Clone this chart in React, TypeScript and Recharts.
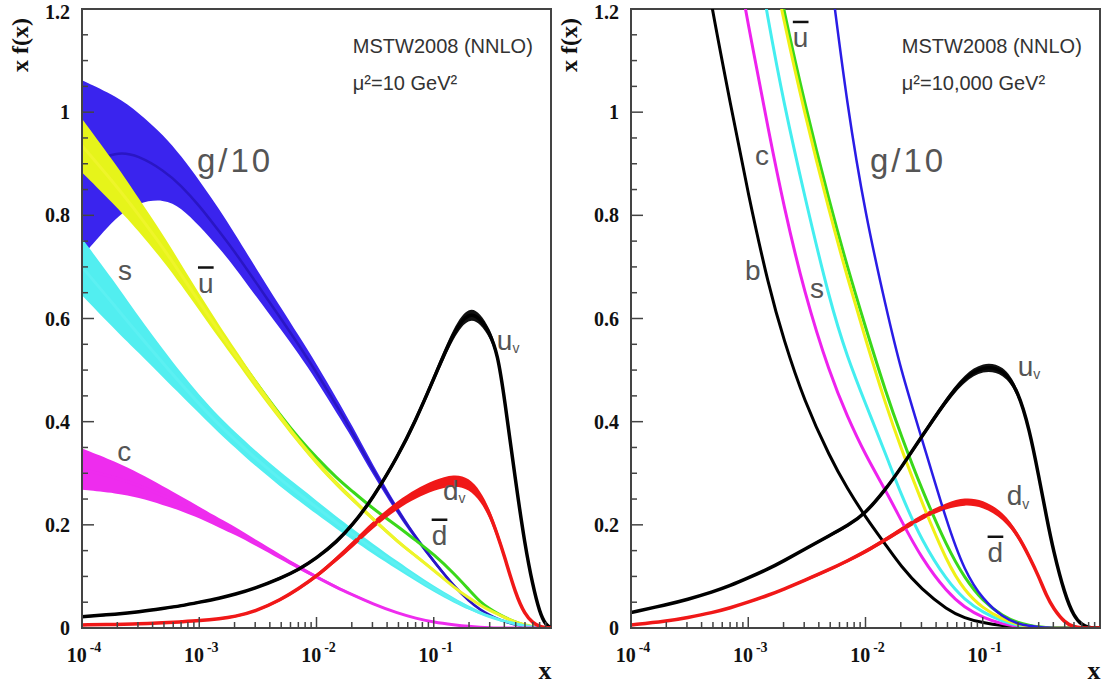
import { ComposedChart, Area, Line, XAxis, YAxis, ReferenceArea, ReferenceDot, Label } from 'recharts'

// common x grid for both panels
const xGrid = [1e-4, 2e-4, 3e-4, 5e-4, 7e-4, 1e-3, 1.5e-3, 2e-3, 3e-3, 5e-3, 7e-3, 1e-2, 1.5e-2, 2e-2, 3e-2, 5e-2, 7e-2, 0.1, 0.15, 0.2, 0.25, 0.3, 0.35, 0.4, 0.5, 0.6, 0.7, 0.8, 0.9, 1]

// ---- mu^2 = 10 GeV^2 (left panel) ----
const gQ10 = [0.895, 0.925, 0.916, 0.887, 0.858, 0.819, 0.767, 0.73, 0.672, 0.599, 0.55, 0.496, 0.429, 0.382, 0.308, 0.224, 0.176, 0.129, 0.08, 0.052, 0.035, 0.025, 0.018, 0.013, 0.006, 0.003, 0.0015, 0.0005, 0, 0]
const gLowQ10 = [0.72, 0.8, 0.825, 0.832, 0.815, 0.78, 0.735, 0.7, 0.645, 0.578, 0.532, 0.48, 0.415, 0.37, 0.298, 0.217, 0.171, 0.125, 0.077, 0.05, 0.034, 0.024, 0.017, 0.012, 0.005, 0.002, 0.001, 0, 0, 0]
const gHighQ10 = [1.062, 1.03, 1.0, 0.955, 0.915, 0.868, 0.81, 0.765, 0.7, 0.62, 0.568, 0.512, 0.443, 0.394, 0.318, 0.231, 0.181, 0.133, 0.083, 0.054, 0.036, 0.026, 0.019, 0.014, 0.007, 0.004, 0.002, 0.001, 0, 0]
const ubarQ10 = [0.935, 0.855, 0.803, 0.735, 0.685, 0.632, 0.572, 0.532, 0.474, 0.406, 0.363, 0.321, 0.278, 0.251, 0.212, 0.166, 0.14, 0.112, 0.078, 0.058, 0.044, 0.034, 0.027, 0.021, 0.011, 0.006, 0.003, 0.001, 0, 0]
const ubarErrQ10 = [0.052, 0.04, 0.032, 0.025, 0.02, 0.016, 0.013, 0.011, 0.009, 0.007, 0.006, 0.006, 0.005, 0.005, 0.004, 0.004, 0.003, 0.003, 0.002, 0.002, 0.001, 0.001, 0, 0, 0, 0, 0, 0, 0, 0]
const dbarQ10 = [0.935, 0.855, 0.803, 0.735, 0.686, 0.634, 0.574, 0.535, 0.478, 0.41, 0.369, 0.33, 0.29, 0.266, 0.232, 0.196, 0.17, 0.143, 0.105, 0.074, 0.05, 0.037, 0.028, 0.021, 0.011, 0.005, 0.002, 0.001, 0, 0]
const sQ10 = [0.7, 0.619, 0.57, 0.511, 0.473, 0.434, 0.392, 0.366, 0.329, 0.287, 0.261, 0.234, 0.203, 0.183, 0.154, 0.12, 0.098, 0.076, 0.053, 0.039, 0.029, 0.022, 0.017, 0.013, 0.008, 0.004, 0.002, 0.001, 0, 0]
const sErrQ10 = [0.055, 0.045, 0.035, 0.027, 0.022, 0.018, 0.016, 0.015, 0.015, 0.014, 0.014, 0.013, 0.012, 0.011, 0.01, 0.008, 0.007, 0.006, 0.005, 0.004, 0.003, 0.002, 0.002, 0.001, 0, 0, 0, 0, 0, 0]
const cQ10 = [0.308, 0.291, 0.277, 0.256, 0.241, 0.224, 0.203, 0.189, 0.166, 0.137, 0.118, 0.099, 0.078, 0.065, 0.047, 0.028, 0.019, 0.011, 0.006, 0.003, 0.0015, 0.0005, 0, 0, 0, 0, 0, 0, 0, 0]
const cErrQ10 = [0.04, 0.03, 0.024, 0.018, 0.014, 0.011, 0.009, 0.008, 0.006, 0.005, 0.004, 0.003, 0.003, 0.002, 0.002, 0.001, 0, 0, 0, 0, 0, 0, 0, 0, 0, 0, 0, 0, 0, 0]
const uvQ10 = [0.022, 0.027, 0.031, 0.038, 0.043, 0.05, 0.058, 0.065, 0.077, 0.097, 0.113, 0.135, 0.168, 0.198, 0.25, 0.335, 0.402, 0.483, 0.578, 0.613, 0.6, 0.572, 0.532, 0.448, 0.282, 0.16, 0.082, 0.03, 0.006, 0]
const uvErrQ10 = [0.002, 0.002, 0.002, 0.002, 0.002, 0.002, 0.002, 0.002, 0.002, 0.003, 0.003, 0.003, 0.004, 0.004, 0.005, 0.006, 0.007, 0.008, 0.01, 0.011, 0.01, 0.009, 0.008, 0.007, 0.005, 0.004, 0.003, 0.002, 0.001, 0]
const dvQ10 = [0.006, 0.007, 0.008, 0.01, 0.012, 0.014, 0.018, 0.022, 0.032, 0.055, 0.076, 0.1, 0.135, 0.16, 0.2, 0.24, 0.26, 0.277, 0.288, 0.28, 0.256, 0.222, 0.18, 0.14, 0.065, 0.026, 0.01, 0.003, 0.001, 0]
const dvErrQ10 = [0.001, 0.001, 0.001, 0.001, 0.001, 0.001, 0.002, 0.002, 0.002, 0.003, 0.003, 0.004, 0.005, 0.006, 0.007, 0.008, 0.009, 0.01, 0.011, 0.011, 0.01, 0.009, 0.008, 0.007, 0.005, 0.003, 0.002, 0.001, 0, 0]

// ---- mu^2 = 10,000 GeV^2 (right panel) ----
const gQ1e4 = [4.57, 3.97, 3.62, 3.18, 2.89, 2.58, 2.24, 2.0, 1.68, 1.27, 1.01, 0.8, 0.62, 0.5, 0.37, 0.2, 0.11, 0.055, 0.02, 0.008, 0.004, 0.002, 0.001, 0, 0, 0, 0, 0, 0, 0]
const ubarQ1e4 = [3.05, 2.54, 2.26, 1.93, 1.73, 1.53, 1.32, 1.18, 1.0, 0.8, 0.68, 0.56, 0.43, 0.35, 0.245, 0.125, 0.072, 0.038, 0.016, 0.007, 0.003, 0.001, 0, 0, 0, 0, 0, 0, 0, 0]
const dbarQ1e4 = [3.07, 2.56, 2.28, 1.95, 1.75, 1.55, 1.34, 1.2, 1.02, 0.82, 0.7, 0.583, 0.455, 0.375, 0.27, 0.155, 0.097, 0.052, 0.022, 0.01, 0.005, 0.002, 0.001, 0, 0, 0, 0, 0, 0, 0]
const sQ1e4 = [3.04, 2.5, 2.2, 1.84, 1.62, 1.4, 1.17, 1.02, 0.84, 0.63, 0.525, 0.435, 0.335, 0.26, 0.17, 0.09, 0.055, 0.03, 0.012, 0.005, 0.002, 0.001, 0, 0, 0, 0, 0, 0, 0, 0]
const cQ1e4 = [2.53, 2.1, 1.85, 1.55, 1.36, 1.17, 0.96, 0.82, 0.65, 0.49, 0.41, 0.335, 0.265, 0.21, 0.135, 0.068, 0.04, 0.02, 0.007, 0.003, 0.001, 0, 0, 0, 0, 0, 0, 0, 0, 0]
const bQ1e4 = [2.14, 1.72, 1.48, 1.19, 1.02, 0.84, 0.66, 0.56, 0.44, 0.33, 0.27, 0.215, 0.16, 0.12, 0.075, 0.035, 0.019, 0.01, 0.004, 0.002, 0.001, 0, 0, 0, 0, 0, 0, 0, 0, 0]
const uvQ1e4 = [0.03, 0.045, 0.055, 0.07, 0.082, 0.097, 0.115, 0.13, 0.152, 0.18, 0.198, 0.222, 0.27, 0.31, 0.37, 0.445, 0.485, 0.508, 0.502, 0.46, 0.385, 0.295, 0.215, 0.15, 0.065, 0.022, 0.006, 0.001, 0, 0]
const uvErrQ1e4 = [0.001, 0.001, 0.001, 0.001, 0.001, 0.002, 0.002, 0.002, 0.002, 0.003, 0.003, 0.003, 0.004, 0.004, 0.005, 0.006, 0.007, 0.008, 0.008, 0.007, 0.006, 0.005, 0.004, 0.003, 0.002, 0.001, 0, 0, 0, 0]
const dvQ1e4 = [0.006, 0.013, 0.02, 0.03, 0.039, 0.05, 0.064, 0.075, 0.092, 0.114, 0.13, 0.148, 0.172, 0.19, 0.215, 0.238, 0.246, 0.242, 0.218, 0.18, 0.138, 0.1, 0.062, 0.038, 0.01, 0.002, 0, 0, 0, 0]
const dvErrQ1e4 = [0.001, 0.001, 0.001, 0.001, 0.001, 0.002, 0.002, 0.002, 0.003, 0.003, 0.003, 0.004, 0.004, 0.005, 0.005, 0.006, 0.007, 0.007, 0.007, 0.006, 0.005, 0.004, 0.003, 0.002, 0.001, 0, 0, 0, 0, 0]

// axis ticks
const xMajorTicks = [1e-4, 1e-3, 1e-2, 1e-1]
const xTicks = xMajorTicks.flatMap((d) => [1, 2, 3, 4, 5, 6, 7, 8, 9].map((m) => m * d))
const yTicks = [0, 0.05, 0.1, 0.15, 0.2, 0.25, 0.3, 0.35, 0.4, 0.45, 0.5, 0.55, 0.6, 0.65, 0.7, 0.75, 0.8, 0.85, 0.9, 0.95, 1, 1.05, 1.1, 1.15, 1.2]
const yMajorTicks = [0, 0.2, 0.4, 0.6, 0.8, 1, 1.2]
const yTickLabels = ['0', '0.2', '0.4', '0.6', '0.8', '1', '1.2']

const band = (mid: number[], err: number[], i: number) => [Math.max(0, mid[i] - err[i]), mid[i] + err[i]]

const tableQ10 = xGrid.map((x, i) => ({
  x,
  g: gQ10[i],
  gBand: [gLowQ10[i], gHighQ10[i]],
  ubar: ubarQ10[i],
  ubarBand: band(ubarQ10, ubarErrQ10, i),
  dbar: dbarQ10[i],
  s: sQ10[i],
  sBand: band(sQ10, sErrQ10, i),
  c: cQ10[i],
  cBand: band(cQ10, cErrQ10, i),
  uv: uvQ10[i],
  uvBand: band(uvQ10, uvErrQ10, i),
  dv: dvQ10[i],
  dvBand: band(dvQ10, dvErrQ10, i),
}))

const tableQ1e4 = xGrid.map((x, i) => ({
  x,
  g: gQ1e4[i],
  ubar: ubarQ1e4[i],
  dbar: dbarQ1e4[i],
  s: sQ1e4[i],
  c: cQ1e4[i],
  b: bQ1e4[i],
  uv: uvQ1e4[i],
  uvBand: band(uvQ1e4, uvErrQ1e4, i),
  dv: dvQ1e4[i],
  dvBand: band(dvQ1e4, dvErrQ1e4, i),
}))

type Note = { text: string; x: number; y: number; size: number; sub?: string; bar?: boolean; dark?: boolean; spacing?: number }

const notesQ10: Note[] = [
  { text: 'MSTW2008 (NNLO)', x: 0.0204, y: 1.115, size: 20, dark: true },
  { text: '\u03bc\u00b2=10 GeV\u00b2', x: 0.0204, y: 1.043, size: 20, dark: true },
  { text: 'g/10', x: 9.55e-4, y: 0.884, size: 33, spacing: 3 },
  { text: 's', x: 2.03e-4, y: 0.675, size: 28 },
  { text: 'u', x: 9.75e-4, y: 0.65, size: 28, bar: true },
  { text: 'c', x: 2e-4, y: 0.324, size: 28 },
  { text: 'u', x: 0.345, y: 0.539, size: 28, sub: 'v' },
  { text: 'd', x: 0.12, y: 0.248, size: 28, sub: 'v' },
  { text: 'd', x: 0.096, y: 0.161, size: 28, bar: true },
]

const notesQ1e4: Note[] = [
  { text: 'MSTW2008 (NNLO)', x: 0.0204, y: 1.115, size: 20, dark: true },
  { text: '\u03bc\u00b2=10,000 GeV\u00b2', x: 0.0204, y: 1.043, size: 20, dark: true },
  { text: 'u', x: 2.4e-3, y: 1.126, size: 28, bar: true },
  { text: 'c', x: 1.14e-3, y: 0.898, size: 28 },
  { text: 'g/10', x: 0.0109, y: 0.884, size: 33, spacing: 3 },
  { text: 'b', x: 9.4e-4, y: 0.675, size: 28 },
  { text: 's', x: 3.36e-3, y: 0.64, size: 28 },
  { text: 'u', x: 0.199, y: 0.489, size: 28, sub: 'v' },
  { text: 'd', x: 0.16, y: 0.238, size: 28, sub: 'v' },
  { text: 'd', x: 0.11, y: 0.128, size: 28, bar: true },
]

const SANS = '"Liberation Sans", Arial, sans-serif'
const SERIF = '"Liberation Serif", "Times New Roman", serif'
const AXIS = '#444'

const XTick = (props: any) => {
  const { x, y, payload } = props
  const v = payload.value
  const major = xMajorTicks.includes(v)
  return (
    <g>
      <line x1={x} x2={x} y1={y} y2={y - (major ? 11 : 6)} stroke={AXIS} strokeWidth={1.5} />
      {major && (
        <text x={x + 2} y={y + 34} textAnchor="middle" fontFamily={SERIF} fontWeight="bold" fontSize={20} fill="#111">
          10
          <tspan fontSize={14} dx={3} dy={-10}>
            {Math.round(Math.log10(v))}
          </tspan>
        </text>
      )}
    </g>
  )
}

const YTick = (props: any) => {
  const { x, y, payload } = props
  const idx = yMajorTicks.findIndex((m) => Math.abs(m - payload.value) < 1e-9)
  const major = idx >= 0
  return (
    <g>
      <line x1={x} x2={x + (major ? 12 : 6)} y1={y} y2={y} stroke={AXIS} strokeWidth={1.5} />
      {major && (
        <text x={x - 12} y={Math.max(y + 7, 19)} textAnchor="end" fontFamily={SERIF} fontWeight="bold" fontSize={20} fill="#111">
          {yTickLabels[idx]}
        </text>
      )}
    </g>
  )
}

const noteShape = (n: Note) => (p: any) => {
  const { cx, cy } = p
  return (
    <g>
      {n.bar && (
        <line x1={cx} x2={cx + n.size * 0.56} y1={cy - n.size * 0.9} y2={cy - n.size * 0.9} stroke="#111" strokeWidth={2.5} />
      )}
      <text x={cx} y={cy} fontFamily={SANS} fontSize={n.size} fill={n.dark ? '#333' : '#555'} letterSpacing={n.spacing}>
        {n.text}
        {n.sub && (
          <tspan fontSize={n.size * 0.5} dy={n.size * 0.12}>
            {n.sub}
          </tspan>
        )}
      </text>
    </g>
  )
}

const yTitle = (props: any) => {
  const { viewBox } = props
  const cx = viewBox.x + 28
  const cy = viewBox.y + 36
  return (
    <text x={cx} y={cy} transform={`rotate(-90, ${cx}, ${cy})`} textAnchor="middle" fontFamily={SERIF} fontWeight="bold" fontSize={24} fill="#111">
      x f(x)
    </text>
  )
}

const xTitle = (props: any) => {
  const { viewBox } = props
  return (
    <text x={viewBox.x + viewBox.width - 6} y={viewBox.y + 51} textAnchor="middle" fontFamily={SERIF} fontWeight="bold" fontSize={26} fill="#111">
      x
    </text>
  )
}

// B-spline keeps the curves smooth between the sampled points
const common = { isAnimationActive: false, dot: false, activeDot: false, type: 'basis' as const }

function PdfPanel({ children, data, notes, right }: any) {
  return (
    <ComposedChart width={right ? 557 : 560} height={687} data={data} margin={{ top: 9, right: right ? 6 : 9, bottom: 0, left: 0 }}>
      <XAxis
        dataKey="x"
        type="number"
        scale="log"
        domain={[1e-4, 1]}
        allowDataOverflow
        ticks={xTicks}
        interval={0}
        tick={XTick}
        tickSize={0}
        tickMargin={0}
        tickLine={false}
        height={59}
        axisLine={{ stroke: AXIS, strokeWidth: 2 }}
      >
        <Label content={xTitle} />
      </XAxis>
      <YAxis
        type="number"
        domain={[0, 1.2]}
        allowDataOverflow
        ticks={yTicks}
        interval={0}
        tick={YTick}
        tickSize={0}
        tickMargin={0}
        tickLine={false}
        width={82}
        axisLine={{ stroke: AXIS, strokeWidth: 2 }}
      >
        <Label content={yTitle} />
      </YAxis>
      {children}
      {notes.map((n: Note, i: number) => (
        <ReferenceDot key={i} x={n.x} y={n.y} r={1} shape={noteShape(n)} ifOverflow="visible" />
      ))}
      <ReferenceArea x1={1e-4} x2={1} y1={0} y2={1.2} fill="none" stroke={AXIS} strokeWidth={2} ifOverflow="visible" />
    </ComposedChart>
  )
}

export default function App() {
  return (
    <div style={{ position: 'absolute', left: 0, top: 0, width: 1106, height: 687, background: '#fff', overflow: 'hidden' }}>
      <div style={{ position: 'absolute', left: 0, top: 0 }}>
        <PdfPanel data={tableQ10} notes={notesQ10}>
          <Area {...common} dataKey="gBand" stroke="none" fill="#3a24ee" fillOpacity={1} />
          {/* g and dbar central curves drawn as unfilled areas so the ubar band covers them */}
          <Area {...common} dataKey="g" stroke="#2a16c4" strokeWidth={2.5} fill="none" />
          <Area {...common} dataKey="dbar" stroke="#3ad81a" strokeWidth={3} fill="none" />
          <Area {...common} dataKey="ubarBand" stroke="none" fill="#e6f41a" fillOpacity={1} />
          <Line {...common} dataKey="ubar" stroke="#eef52a" strokeWidth={3} />
          <Area {...common} dataKey="sBand" stroke="none" fill="#52eef0" fillOpacity={1} />
          <Line {...common} dataKey="s" stroke="#5cf0f2" strokeWidth={3} />
          <Area {...common} dataKey="cBand" stroke="none" fill="#ee2cee" fillOpacity={1} />
          <Line {...common} dataKey="c" stroke="#ee2cee" strokeWidth={3} />
          <Area {...common} dataKey="uvBand" stroke="none" fill="#111" fillOpacity={1} />
          <Line {...common} dataKey="uv" stroke="#000" strokeWidth={3.5} />
          <Area {...common} dataKey="dvBand" stroke="none" fill="#f01818" fillOpacity={1} />
          <Line {...common} dataKey="dv" stroke="#f01818" strokeWidth={3.5} />
        </PdfPanel>
      </div>
      <div style={{ position: 'absolute', left: 549, top: 0 }}>
        <PdfPanel data={tableQ1e4} notes={notesQ1e4} right>
          <Line {...common} dataKey="b" stroke="#000" strokeWidth={3} />
          <Line {...common} dataKey="c" stroke="#ee22ee" strokeWidth={3} />
          <Line {...common} dataKey="s" stroke="#44eef0" strokeWidth={3} />
          <Line {...common} dataKey="dbar" stroke="#3ad81a" strokeWidth={3} />
          <Line {...common} dataKey="ubar" stroke="#f0f016" strokeWidth={3} />
          <Line {...common} dataKey="g" stroke="#2a1ce6" strokeWidth={2.5} />
          <Area {...common} dataKey="uvBand" stroke="none" fill="#111" fillOpacity={1} />
          <Line {...common} dataKey="uv" stroke="#000" strokeWidth={3.5} />
          <Area {...common} dataKey="dvBand" stroke="none" fill="#f01818" fillOpacity={1} />
          <Line {...common} dataKey="dv" stroke="#f01818" strokeWidth={3.5} />
        </PdfPanel>
      </div>
    </div>
  )
}
